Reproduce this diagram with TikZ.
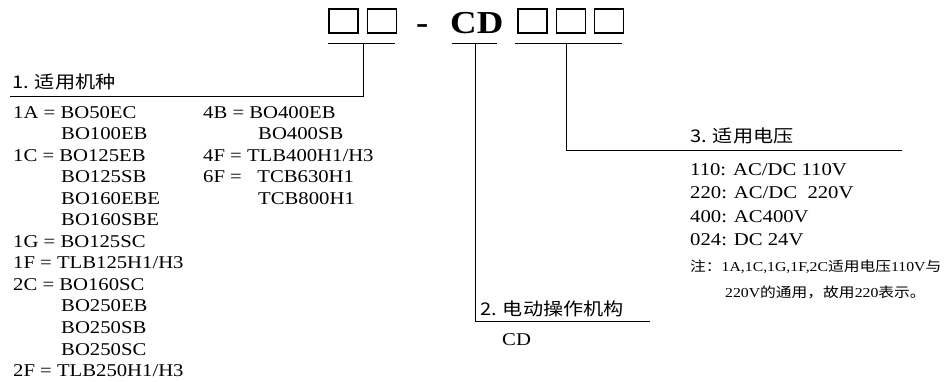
\documentclass[tikz,border=0pt]{standalone}
\usepackage{fontspec}
\setmainfont{Liberation Serif}[FakeStretch=1.15]
\newfontfamily\cjk{Noto Sans CJK SC}[FakeStretch=1.15]
\usepackage{tikz}
\usetikzlibrary{positioning}

\tikzset{
  slot/.style={draw, line width=1.1pt, minimum width=29pt, minimum height=24pt, inner sep=0pt},
  item/.style={anchor=base west, inner sep=0pt, font=\fontsize{18}{20}\selectfont},
  head/.style={anchor=base west, inner sep=0pt, font=\fontsize{17.5}{20}\cjk},
  note/.style={anchor=base west, inner sep=0pt, font=\fontsize{13.7}{16}\selectfont},
  big/.style={anchor=base west, inner sep=0pt, font=\fontsize{32}{32}\selectfont\bfseries},
  lead/.style={line width=0.9pt}
}

\begin{document}
\begin{tikzpicture}[x=1pt, y=-1pt]
\useasboundingbox (0,0) rectangle (947,381);

% model code
\node[slot] (s1) at (343.5,21) {};
\node[slot, right=8pt of s1] (s2) {};
\node[big] (dash) at (416,33) {-};
\node[big] (cd) at (450,33) {CD};
\node[slot] (s3) at (532.5,21) {};
\node[slot, right=8pt of s3] (s4) {};
\node[slot, right=8pt of s4] (s5) {};

\coordinate (g1w) at (328,43); \coordinate (g1e) at (395,43);
\coordinate (g2w) at (452,43); \coordinate (g2e) at (497,43);
\coordinate (g3w) at (515,43); \coordinate (g3e) at (622,43);
\draw[lead] (g1w) -- (g1e);
\draw[lead] (g2w) -- (g2e);
\draw[lead] (g3w) -- (g3e);

% leaders
\coordinate (t1) at (363,43); \coordinate (h1) at (10,96);
\coordinate (t2) at (475,43); \coordinate (h2) at (650,321);
\coordinate (t3) at (566,43); \coordinate (h3) at (902,150);
\draw[lead] (t1) |- (h1);
\draw[lead] (t2) |- (h2);
\draw[lead] (t3) |- (h3);

\node[head] (head1) at (12,88) {1. 适用机种};
\node[head] (head2) at (480,315) {2. 电动操作机构};
\node[head] (head3) at (690,142) {3. 适用电压};

% 1. types
\foreach \x/\txt [count=\i from 0] in {13/{1A = BO50EC}, 61/BO100EB, 13/{1C = BO125EB},
    61/BO125SB, 61/BO160EBE, 61/BO160SBE, 13/{1G = BO125SC}, 13/{1F = TLB125H1/H3},
    13/{2C = BO160SC}, 61/BO250EB, 61/BO250SB, 61/BO250SC, 13/{2F = TLB250H1/H3}}
  \node[item] (l\i) at (\x,118+\i*21.55) {\txt};
\foreach \x/\txt [count=\i from 0] in {203/{4B = BO400EB}, 258/BO400SB,
    203/{4F = TLB400H1/H3}, 203/{6F = \ \ TCB630H1}, 258/TCB800H1}
  \node[item] (r\i) at (\x,118+\i*21.55) {\txt};

% 2. operator
\node[item] (cdop) at (502,345) {CD};

% 3. voltage
\foreach \txt [count=\i from 0] in {110: AC/DC 110V, 220: AC/DC \ 220V, 400: AC400V, 024: DC 24V}
  \node[item] (v\i) at (690,175+\i*23.5) {\txt};
\node[note] (n1) at (690,271) {{\cjk 注：}1A,1C,1G,1F,2C{\cjk 适用电压}110V{\cjk 与}};
\node[note] (n2) at (725,297) {220V{\cjk 的通用，故用}220{\cjk 表示。}};
\end{tikzpicture}
\end{document}
